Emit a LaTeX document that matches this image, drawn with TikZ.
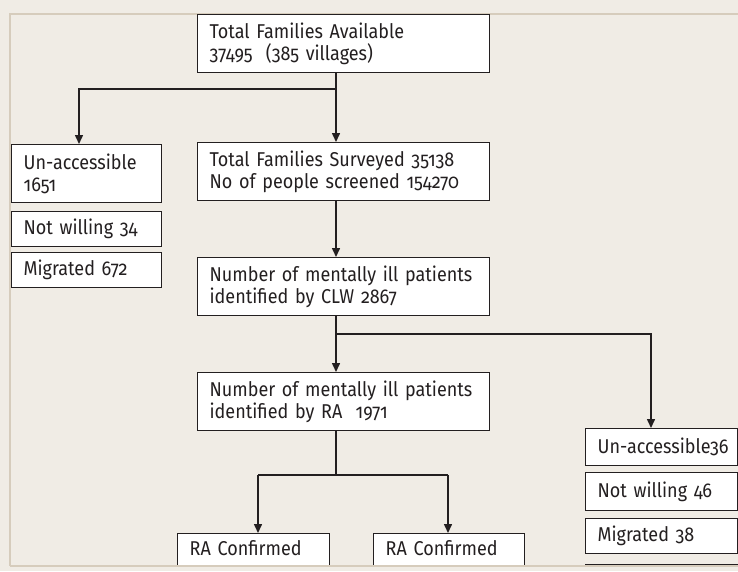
\documentclass[tikz,border=0pt]{standalone}
\usepackage{fontspec}
\setmainfont{Fira Sans}[Numbers=OldStyle, FakeStretch=0.9]
\usetikzlibrary{arrows.meta}
\definecolor{bg}{RGB}{240,236,229}
\definecolor{frame}{RGB}{214,204,188}
\definecolor{ink}{RGB}{35,31,32}
\begin{document}
\begin{tikzpicture}[x=1pt,y=-1pt,
  box/.style={draw=ink, line width=1.3pt, fill=white, rectangle, anchor=north west,
    inner xsep=12pt, inner ysep=0pt, align=left, font=\fontsize{20}{22.5}\selectfont, text=ink},
  arr/.style={draw=ink, line width=1.5pt, -{Triangle[length=9pt,width=8pt]}},
  ln/.style={draw=ink, line width=1.5pt},
  frm/.style={draw=frame, line width=1.5pt}]
\useasboundingbox[fill=bg] (0,0) rectangle (738,571);
\draw[frm] (738,14) -- (10,14) -- (10,566);
\begin{scope}
\clip (10,14) rectangle (740,566);
% boxes
\node[box, minimum width=292pt, minimum height=58pt, text width=268pt] (top) at (197,14)
  {Total Families Available\\37495~~(385 villages)};
\node[box, minimum width=150pt, minimum height=58pt, text width=126pt] (ua1) at (11,144)
  {Un-accessible\\1651};
\node[box, minimum width=150pt, minimum height=35pt, text width=126pt] (nw1) at (11,211)
  {Not willing 34};
\node[box, minimum width=150pt, minimum height=35pt, text width=126pt] (mg1) at (11,252)
  {Migrated 672};
\node[box, minimum width=292pt, minimum height=58pt, text width=268pt] (surv) at (197,142)
  {Total Families Surveyed 35138\\No of people screened 154270};
\node[box, minimum width=292pt, minimum height=58pt, text width=268pt] (clw) at (197,257)
  {Number of mentally ill patients\\identified by CLW 2867};
\node[box, minimum width=292pt, minimum height=58pt, text width=268pt] (ra) at (197,372)
  {Number of mentally ill patients\\identified by RA~~1971};
\node[box, minimum width=152pt, minimum height=37pt, text width=128pt] (ua2) at (585,428)
  {\mbox{Un-accessible36}};
\node[box, minimum width=152pt, minimum height=38pt, text width=128pt] (nw2) at (585,472)
  {Not willing 46};
\node[box, minimum width=152pt, minimum height=35pt, text width=128pt] (mg2) at (585,518)
  {Migrated 38};
\node[box, minimum width=152pt, minimum height=30pt, text width=128pt] (x4) at (585,564) {};
\node[box, minimum width=152pt, minimum height=58pt, text width=128pt] (rc1) at (177,533)
  {RA Confirmed\\\strut};
\node[box, minimum width=151pt, minimum height=58pt, text width=127pt] (rc2) at (373,533)
  {RA Confirmed\\\strut};
% connectors
\coordinate (sp) at (336,0);
\coordinate (b1) at (79,89);
\coordinate (b2) at (651,334);
\coordinate (b3) at (336,475);
\coordinate (b3l) at (258,475);
\coordinate (b3r) at (448,475);
\draw[arr] (sp |- top.south) -- (sp |- surv.north);
\draw[arr] (b1 -| sp) -- (b1) -- (b1 |- ua1.north);
\draw[arr] (sp |- surv.south) -- (sp |- clw.north);
\draw[arr] (sp |- clw.south) -- (sp |- ra.north);
\draw[arr] (b2 -| sp) -- (b2) -- (b2 |- ua2.north);
\draw[ln] (sp |- ra.south) -- (b3);
\draw[ln] (b3l) -- (b3r);
\draw[arr] (b3l) -- (b3l |- rc1.north);
\draw[arr] (b3r) -- (b3r |- rc2.north);
\end{scope}
\draw[frm] (10,566) -- (738,566);
\end{tikzpicture}
\end{document}
